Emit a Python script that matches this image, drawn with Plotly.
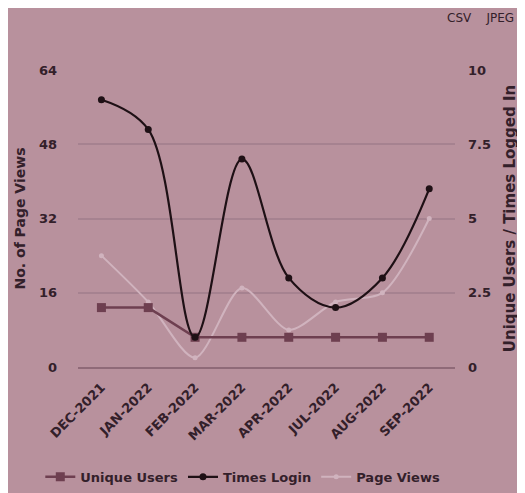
import plotly.graph_objects as go

months = ["DEC-2021", "JAN-2022", "FEB-2022", "MAR-2022", "APR-2022", "JUL-2022", "AUG-2022", "SEP-2022"]
unique_users = [2, 2, 1, 1, 1, 1, 1, 1]
times_login = [9, 8, 1, 7, 3, 2, 3, 6]
page_views = [24, 14, 2, 17, 8, 14, 16, 32]

left_ticks = [0, 16, 32, 48, 64]
right_ticks = [0, 2.5, 5, 7.5, 10]
right_tick_text = ["0", "2.5", "5", "7.5", "10"]

bg = "#b8919d"
txt = "#33202a"
grid = "#a68290"
FAM = "DejaVu Sans"

fig = go.Figure()
fig.add_trace(go.Scatter(
    x=months, y=page_views, name="Page Views", yaxis="y", legendrank=3,
    mode="lines+markers", line=dict(color="#d0b3be", width=2, shape="spline", smoothing=0.8),
    marker=dict(size=5, color="#d0b3be"),
))
fig.add_trace(go.Scatter(
    x=months, y=unique_users, name="Unique Users", yaxis="y2", legendrank=1,
    mode="lines+markers", line=dict(color="#6e3f50", width=2.5),
    marker=dict(size=9, symbol="square", color="#6e3f50"),
))
fig.add_trace(go.Scatter(
    x=months, y=times_login, name="Times Login", yaxis="y2", legendrank=2,
    mode="lines+markers", line=dict(color="#1e1015", width=2.2, shape="spline", smoothing=1.0),
    marker=dict(size=7, color="#1e1015"),
))

tickfont = dict(family=FAM, size=13, color=txt, weight="bold")

fig.update_layout(
    width=517, height=485,
    paper_bgcolor=bg, plot_bgcolor=bg,
    margin=dict(l=70, r=70, t=62, b=126, autoexpand=False),
    font=dict(family=FAM, color=txt, size=11),
    showlegend=True,
    legend=dict(orientation="h", x=-0.1, xanchor="left", xref="paper",
                y=-0.37, yref="paper", yanchor="middle", itemwidth=30,
                font=dict(family=FAM, size=13, color=txt, weight="bold"), bgcolor="rgba(0,0,0,0)"),
    xaxis=dict(showgrid=False, tickangle=-45, range=[-0.5, 7.55], zeroline=False, automargin=False,
               ticks="", tickfont=tickfont, ticklabelstandoff=6,
               showline=True, linecolor="#8f6a78", linewidth=1.5),
    yaxis=dict(range=[0, 64], tickvals=left_ticks, showgrid=True, gridcolor=grid, gridwidth=1.5,
               zeroline=False, automargin=False, ticklabelstandoff=20,
               title=dict(text="No. of Page Views", font=dict(family=FAM, size=14, color=txt, weight="bold"), standoff=10),
               tickfont=tickfont, showline=False),
    yaxis2=dict(range=[0, 10], tickvals=right_ticks, ticktext=right_tick_text, overlaying="y", side="right",
                showgrid=False, zeroline=False, automargin=False, ticklabelstandoff=12,
                title=dict(text="Unique Users / Times Logged In", font=dict(family=FAM, size=15, color=txt, weight="bold"), standoff=14),
                tickfont=tickfont),
)

fig.add_annotation(text="CSV    JPEG", x=1.162, y=1.175, xref="paper", yref="paper",
                   xanchor="right", yanchor="middle", showarrow=False,
                   font=dict(family=FAM, size=12, color=txt))

fig.write_html("out.html")
